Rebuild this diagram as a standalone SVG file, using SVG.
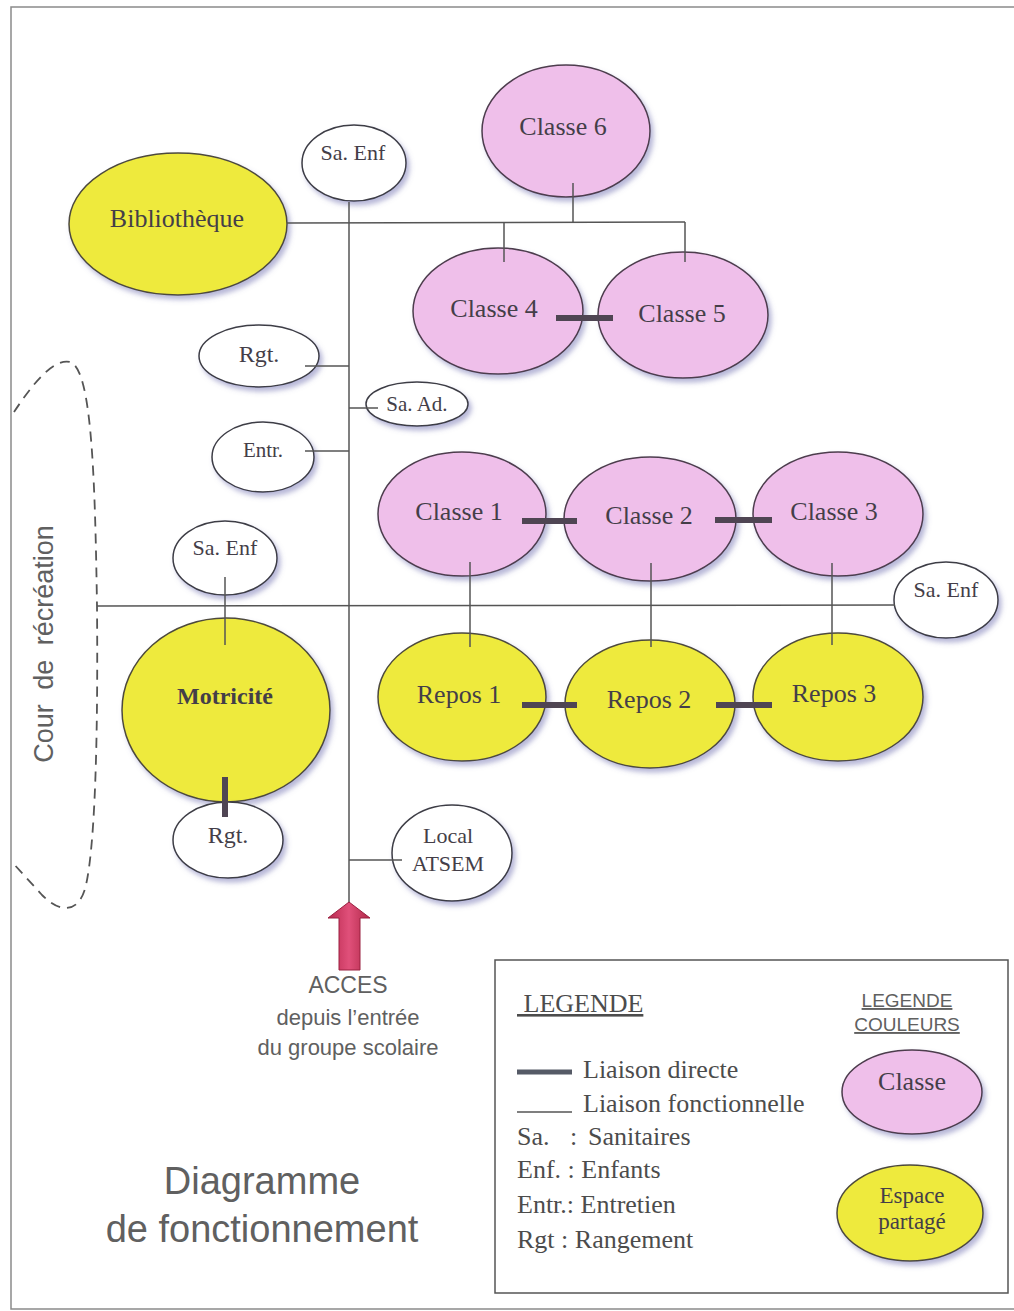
<svg xmlns="http://www.w3.org/2000/svg" width="1014" height="1311" viewBox="0 0 1014 1311">
<style>
.pink{fill:#efbfea;stroke:#4d3d4d;stroke-width:1.5;filter:url(#sh)}
.yel{fill:#eeea3c;stroke:#4d4a3d;stroke-width:1.5;filter:url(#sh)}
.wht{fill:#ffffff;stroke:#3d3d45;stroke-width:1.5;filter:url(#sh)}
.lbl{font-family:"Liberation Serif","Times New Roman",serif;fill:#443e48;text-anchor:middle}
.thin{stroke:#555;stroke-width:1.5;fill:none}
.thick{stroke:#4f4553;stroke-width:6;fill:none}
.sans{font-family:"Liberation Sans",Arial,sans-serif;fill:#606060}
.leg{font-family:"Liberation Serif","Times New Roman",serif;fill:#4c4c4c;font-size:26px}
</style>
<defs>
<filter id="sh" x="-20%" y="-20%" width="150%" height="150%">
<feDropShadow dx="3" dy="4" stdDeviation="2.5" flood-color="#7070b0" flood-opacity="0.5"/>
</filter>
<linearGradient id="arr" x1="0" y1="0" x2="1" y2="0">
<stop offset="0" stop-color="#b8284e"/>
<stop offset="0.5" stop-color="#e0507a"/>
<stop offset="1" stop-color="#b02848"/>
</linearGradient>
</defs>
<rect x="0" y="0" width="1014" height="1311" fill="#ffffff"/>
<rect id="frame" x="11" y="7" width="1010" height="1302" fill="none" stroke="#8a8a8a" stroke-width="1.5"/>

<path id="cour" d="M 14 412 C 30 388, 52 358, 70 362 C 92 368, 95 480, 97 606 C 98 720, 96 840, 86 885 C 80 912, 62 915, 42 895 L 12 862" fill="none" stroke="#555" stroke-width="1.8" stroke-dasharray="10,7"/>
<text class="sans" font-size="27" word-spacing="7" text-anchor="middle" transform="translate(53,644) rotate(-90)">Cour de récréation</text>

<g id="n-biblio"><ellipse class="yel" cx="178" cy="224" rx="109" ry="71"/><text class="lbl" x="177" y="227" font-size="26">Bibliothèque</text></g>
<g id="n-saenf1"><ellipse class="wht" cx="354" cy="163" rx="52" ry="38"/><text class="lbl" x="353" y="160" font-size="22">Sa. Enf</text></g>
<g id="n-classe6"><ellipse class="pink" cx="566" cy="131" rx="84" ry="66"/><text class="lbl" x="563" y="135" font-size="26">Classe 6</text></g>
<g id="n-classe4"><ellipse class="pink" cx="498" cy="311" rx="85" ry="63"/><text class="lbl" x="494" y="317" font-size="26">Classe 4</text></g>
<g id="n-classe5"><ellipse class="pink" cx="683" cy="315" rx="85" ry="63"/><text class="lbl" x="682" y="322" font-size="26">Classe 5</text></g>
<g id="n-rgt1"><ellipse class="wht" cx="259" cy="356" rx="60" ry="31"/><text class="lbl" x="259" y="362" font-size="24">Rgt.</text></g>
<g id="n-saad"><ellipse class="wht" cx="417" cy="404" rx="51" ry="22"/><text class="lbl" x="417" y="411" font-size="21">Sa. Ad.</text></g>
<g id="n-entr"><ellipse class="wht" cx="263" cy="457" rx="51" ry="35"/><text class="lbl" x="263" y="457" font-size="21">Entr.</text></g>
<g id="n-classe1"><ellipse class="pink" cx="462" cy="514" rx="84" ry="62"/><text class="lbl" x="459" y="520" font-size="26">Classe 1</text></g>
<g id="n-classe2"><ellipse class="pink" cx="650" cy="519" rx="86" ry="62"/><text class="lbl" x="649" y="524" font-size="26">Classe 2</text></g>
<g id="n-classe3"><ellipse class="pink" cx="838" cy="514" rx="85" ry="62"/><text class="lbl" x="834" y="520" font-size="26">Classe 3</text></g>
<g id="n-saenf2"><ellipse class="wht" cx="225" cy="558" rx="52" ry="37"/><text class="lbl" x="225" y="555" font-size="22">Sa. Enf</text></g>
<g id="n-saenf3"><ellipse class="wht" cx="946" cy="600" rx="52" ry="38"/><text class="lbl" x="946" y="597" font-size="22">Sa. Enf</text></g>
<g id="n-motricite"><ellipse class="yel" cx="226" cy="710" rx="104" ry="92"/><text class="lbl" x="225" y="704" font-size="24" font-weight="bold">Motricité</text></g>
<g id="n-repos1"><ellipse class="yel" cx="462" cy="697" rx="84" ry="64"/><text class="lbl" x="459" y="703" font-size="26">Repos 1</text></g>
<g id="n-repos2"><ellipse class="yel" cx="650" cy="704" rx="85" ry="64"/><text class="lbl" x="649" y="708" font-size="26">Repos 2</text></g>
<g id="n-repos3"><ellipse class="yel" cx="838" cy="697" rx="85" ry="64"/><text class="lbl" x="834" y="702" font-size="26">Repos 3</text></g>
<g id="n-rgt2"><ellipse class="wht" cx="228" cy="840" rx="55" ry="38"/><text class="lbl" x="228" y="843" font-size="24">Rgt.</text></g>
<g id="n-atsem"><ellipse class="wht" cx="452" cy="853" rx="60" ry="48"/><text class="lbl" x="448" y="843" font-size="22">Local</text><text class="lbl" x="448" y="871" font-size="22">ATSEM</text></g>

<g id="connectors">
<line class="thin" x1="349" y1="202" x2="349" y2="903"/>
<line class="thin" x1="287" y1="223" x2="685" y2="222"/>
<line class="thin" x1="573" y1="183" x2="573" y2="222"/>
<line class="thin" x1="504" y1="222" x2="504" y2="262"/>
<line class="thin" x1="685" y1="222" x2="685" y2="262"/>
<line class="thin" x1="305" y1="366" x2="349" y2="366"/>
<line class="thin" x1="349" y1="408" x2="378" y2="408"/>
<line class="thin" x1="305" y1="451" x2="349" y2="451"/>
<line class="thin" x1="97" y1="606" x2="895" y2="605"/>
<line class="thin" x1="225" y1="577" x2="225" y2="645"/>
<line class="thin" x1="470" y1="562" x2="470" y2="647"/>
<line class="thin" x1="651" y1="563" x2="651" y2="647"/>
<line class="thin" x1="832" y1="563" x2="832" y2="645"/>
<line class="thin" x1="349" y1="860" x2="402" y2="860"/>
<line class="thick" x1="556" y1="318" x2="613" y2="318"/>
<line class="thick" x1="522" y1="521" x2="577" y2="521"/>
<line class="thick" x1="715" y1="520" x2="772" y2="520"/>
<line class="thick" x1="522" y1="705" x2="577" y2="705"/>
<line class="thick" x1="716" y1="705" x2="772" y2="705"/>
<line class="thick" x1="225" y1="777" x2="225" y2="817"/>
</g>

<g id="acces">
<path d="M 349 902 L 370 918 L 360 918 L 360 970 L 339 970 L 339 918 L 328 918 Z" fill="url(#arr)" stroke="#9a2040" stroke-width="1"/>
<text class="sans" x="348" y="993" font-size="23" text-anchor="middle">ACCES</text>
<text class="sans" x="348" y="1025" font-size="22" text-anchor="middle">depuis l’entrée</text>
<text class="sans" x="348" y="1055" font-size="22" text-anchor="middle">du groupe scolaire</text>
</g>

<g id="title">
<text class="sans" x="262" y="1194" font-size="38" text-anchor="middle">Diagramme</text>
<text class="sans" x="262" y="1242" font-size="38" text-anchor="middle">de fonctionnement</text>
</g>

<g id="legend">
<rect x="495" y="960" width="513" height="333" fill="#ffffff" stroke="#555" stroke-width="1.5"/>
<text class="leg" x="517" y="1012" text-decoration="underline" xml:space="preserve"> LEGENDE</text>
<text class="sans" x="907" y="1007" font-size="19" text-anchor="middle" text-decoration="underline">LEGENDE</text>
<text class="sans" x="907" y="1031" font-size="19" text-anchor="middle" text-decoration="underline">COULEURS</text>
<line x1="517" y1="1072" x2="572" y2="1072" stroke="#555a66" stroke-width="5"/>
<text class="leg" x="583" y="1078">Liaison directe</text>
<line x1="517" y1="1112" x2="572" y2="1112" stroke="#555" stroke-width="1.5"/>
<text class="leg" x="583" y="1112">Liaison fonctionnelle</text>
<text class="leg" y="1145"><tspan x="517">Sa.</tspan><tspan x="570">:</tspan><tspan x="588">Sanitaires</tspan></text>
<text class="leg" x="517" y="1178">Enf. : Enfants</text>
<text class="leg" x="517" y="1213">Entr.: Entretien</text>
<text class="leg" x="517" y="1248">Rgt : Rangement</text>
<g id="leg-classe"><ellipse class="pink" cx="912" cy="1092" rx="70" ry="42"/><text class="lbl" x="912" y="1090" font-size="26">Classe</text></g>
<g id="leg-espace"><ellipse class="yel" cx="910" cy="1213" rx="73" ry="48"/><text class="lbl" x="912" y="1203" font-size="23">Espace</text><text class="lbl" x="912" y="1229" font-size="23">partagé</text></g>
</g>
</svg>
